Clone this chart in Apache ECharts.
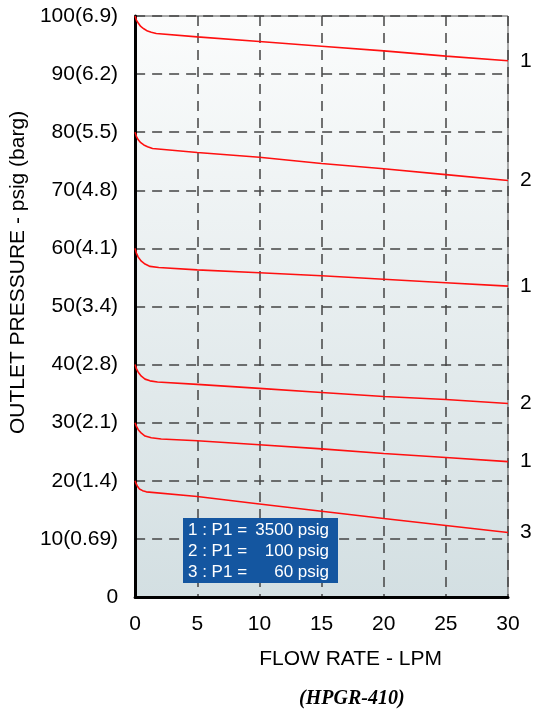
<!DOCTYPE html>
<html>
<head>
<meta charset="utf-8">
<script src="https://cdn.jsdelivr.net/npm/echarts@6/dist/echarts.min.js"></script>
<style>
  html, body { margin: 0; padding: 0; background: #fff; }
  #chart { width: 541px; height: 712px; }
</style>
</head>
<body>
<div id="chart"></div>
<script>
// 出口压力 - 流量曲线 (HPGR-410)
var yTicks = [0, 10, 20, 30, 40, 50, 60, 70, 80, 90, 100];
var yTickLabels = ['0', '10(0.69)', '20(1.4)', '30(2.1)', '40(2.8)', '50(3.4)',
                   '60(4.1)', '70(4.8)', '80(5.5)', '90(6.2)', '100(6.9)'];

var curveNames = ['1', '2', '1', '2', '1', '3'];

var flow1 = [0, 0.1, 0.25, 0.45, 0.7, 1.0, 1.3, 1.7, 5, 10, 15, 20, 25, 30];
var press1 = [100, 99.3, 98.8, 98.2, 97.8, 97.4, 97.2, 97.0, 96.4, 95.6, 94.8, 94.0, 93.1, 92.3];

var flow2 = [0, 0.1, 0.25, 0.45, 0.7, 1.0, 1.4, 5, 10, 15, 20, 25, 30];
var press2 = [80, 79.3, 78.7, 78.2, 77.8, 77.5, 77.2, 76.5, 75.7, 74.6, 73.7, 72.7, 71.7];

var flow3 = [0, 0.1, 0.25, 0.5, 0.8, 1.2, 1.9, 5, 10, 15, 20, 25, 30];
var press3 = [60, 59.2, 58.5, 57.8, 57.3, 56.9, 56.7, 56.3, 55.8, 55.3, 54.7, 54.1, 53.5];

var flow4 = [0, 0.1, 0.25, 0.5, 0.8, 1.2, 1.8, 5, 10, 15, 20, 25, 30];
var press4 = [40, 39.3, 38.7, 38.0, 37.5, 37.2, 37.0, 36.6, 35.9, 35.2, 34.5, 34.0, 33.3];

var flow5 = [0, 0.1, 0.25, 0.5, 0.8, 1.3, 2.1, 5, 10, 15, 20, 25, 30];
var press5 = [30, 29.4, 28.8, 28.2, 27.7, 27.4, 27.2, 26.9, 26.2, 25.5, 24.7, 24.0, 23.3];

var flow6 = [0, 0.08, 0.2, 0.35, 0.6, 0.9, 5, 10, 15, 20, 25, 30];
var press6 = [20, 19.5, 19.0, 18.6, 18.3, 18.1, 17.3, 16.0, 14.75, 13.5, 12.3, 11.1];

var legendIds = ['1', '2', '3'];
var legendP1 = ['3500', '100', '60'];

(function () {
    var myChart = echarts.init(document.getElementById('chart'));
    var font = 'Liberation Sans, Arial, sans-serif';

    var flows = [flow1, flow2, flow3, flow4, flow5, flow6];
    var presses = [press1, press2, press3, press4, press5, press6];

    var series = [];
    for (var i = 0; i < flows.length; i++) {
        var pts = [];
        for (var j = 0; j < flows[i].length; j++) {
            pts.push([flows[i][j], presses[i][j]]);
        }
        series.push({
            type: 'line',
            name: 'curve' + i,
            data: pts,
            symbol: 'none',
            smooth: false,
            lineStyle: { color: '#ff1010', width: 1.6 },
            endLabel: {
                show: true,
                formatter: curveNames[i],
                distance: 12,
                color: '#000',
                fontFamily: font,
                fontSize: 21
            }
        });
    }

    // 图例框
    var graphics = [{
        type: 'rect',
        x: 183,
        y: 518,
        shape: { width: 155, height: 65 },
        style: { fill: '#1456a0' },
        z: 100
    }];
    for (var k = 0; k < legendIds.length; k++) {
        graphics.push({
            type: 'text',
            x: 188,
            y: 530 + k * 21,
            z: 101,
            style: {
                text: legendIds[k] + ' : P1 =', fill: '#fff',
                font: '17px ' + font, verticalAlign: 'middle'
            }
        });
        graphics.push({
            type: 'text',
            x: 329,
            y: 530 + k * 21,
            z: 101,
            style: {
                text: legendP1[k] + ' psig', fill: '#fff',
                font: '17px ' + font, align: 'right', verticalAlign: 'middle'
            }
        });
    }

    var option = {
        animation: false,
        title: {
            text: '(HPGR-410)',
            left: 294,
            top: 684,
            textStyle: {
                fontFamily: 'Liberation Serif, Times New Roman, serif',
                fontStyle: 'italic',
                fontWeight: 'bold',
                fontSize: 20,
                color: '#000'
            }
        },
        grid: {
            left: 134,
            right: 33,
            top: 16,
            bottom: 115,
            show: true,
            borderColor: '#555',
            borderWidth: 1,
            backgroundColor: {
                type: 'linear', x: 0, y: 0, x2: 0, y2: 1,
                colorStops: [
                    { offset: 0, color: '#fbfcfc' },
                    { offset: 1, color: '#d3dfe2' }
                ]
            }
        },
        xAxis: {
            type: 'value',
            min: 0,
            max: 30,
            interval: 5,
            name: 'FLOW RATE - LPM',
            nameLocation: 'middle',
            nameGap: 52,
            nameTextStyle: { color: '#000', fontFamily: font, fontSize: 21, padding: [0, 0, 0, 58] },
            axisLine: { lineStyle: { color: '#000', width: 3 } },
            axisTick: { show: false },
            axisLabel: { color: '#000', fontFamily: font, fontSize: 21, margin: 17 },
            splitLine: { lineStyle: { color: '#444', width: 1.5, type: [10, 7] } }
        },
        yAxis: {
            type: 'value',
            min: 0,
            max: 100,
            interval: 10,
            name: 'OUTLET PRESSURE - psig (barg)',
            nameLocation: 'middle',
            nameGap: 103,
            nameTextStyle: { color: '#000', fontFamily: font, fontSize: 21, padding: [0, 0, 0, 68] },
            axisLine: { show: true, lineStyle: { color: '#000', width: 3 } },
            axisTick: { show: false },
            axisLabel: {
                color: '#000', fontFamily: font, fontSize: 21, margin: 17,
                formatter: function (v) {
                    var idx = yTicks.indexOf(v);
                    return idx >= 0 ? yTickLabels[idx] : '';
                }
            },
            splitLine: { lineStyle: { color: '#444', width: 1.5, type: [10, 7] } }
        },
        graphic: graphics,
        series: series
    };

    myChart.setOption(option);
    window.addEventListener('resize', function () {
        myChart.resize();
    });
})();
</script>
</body>
</html>
